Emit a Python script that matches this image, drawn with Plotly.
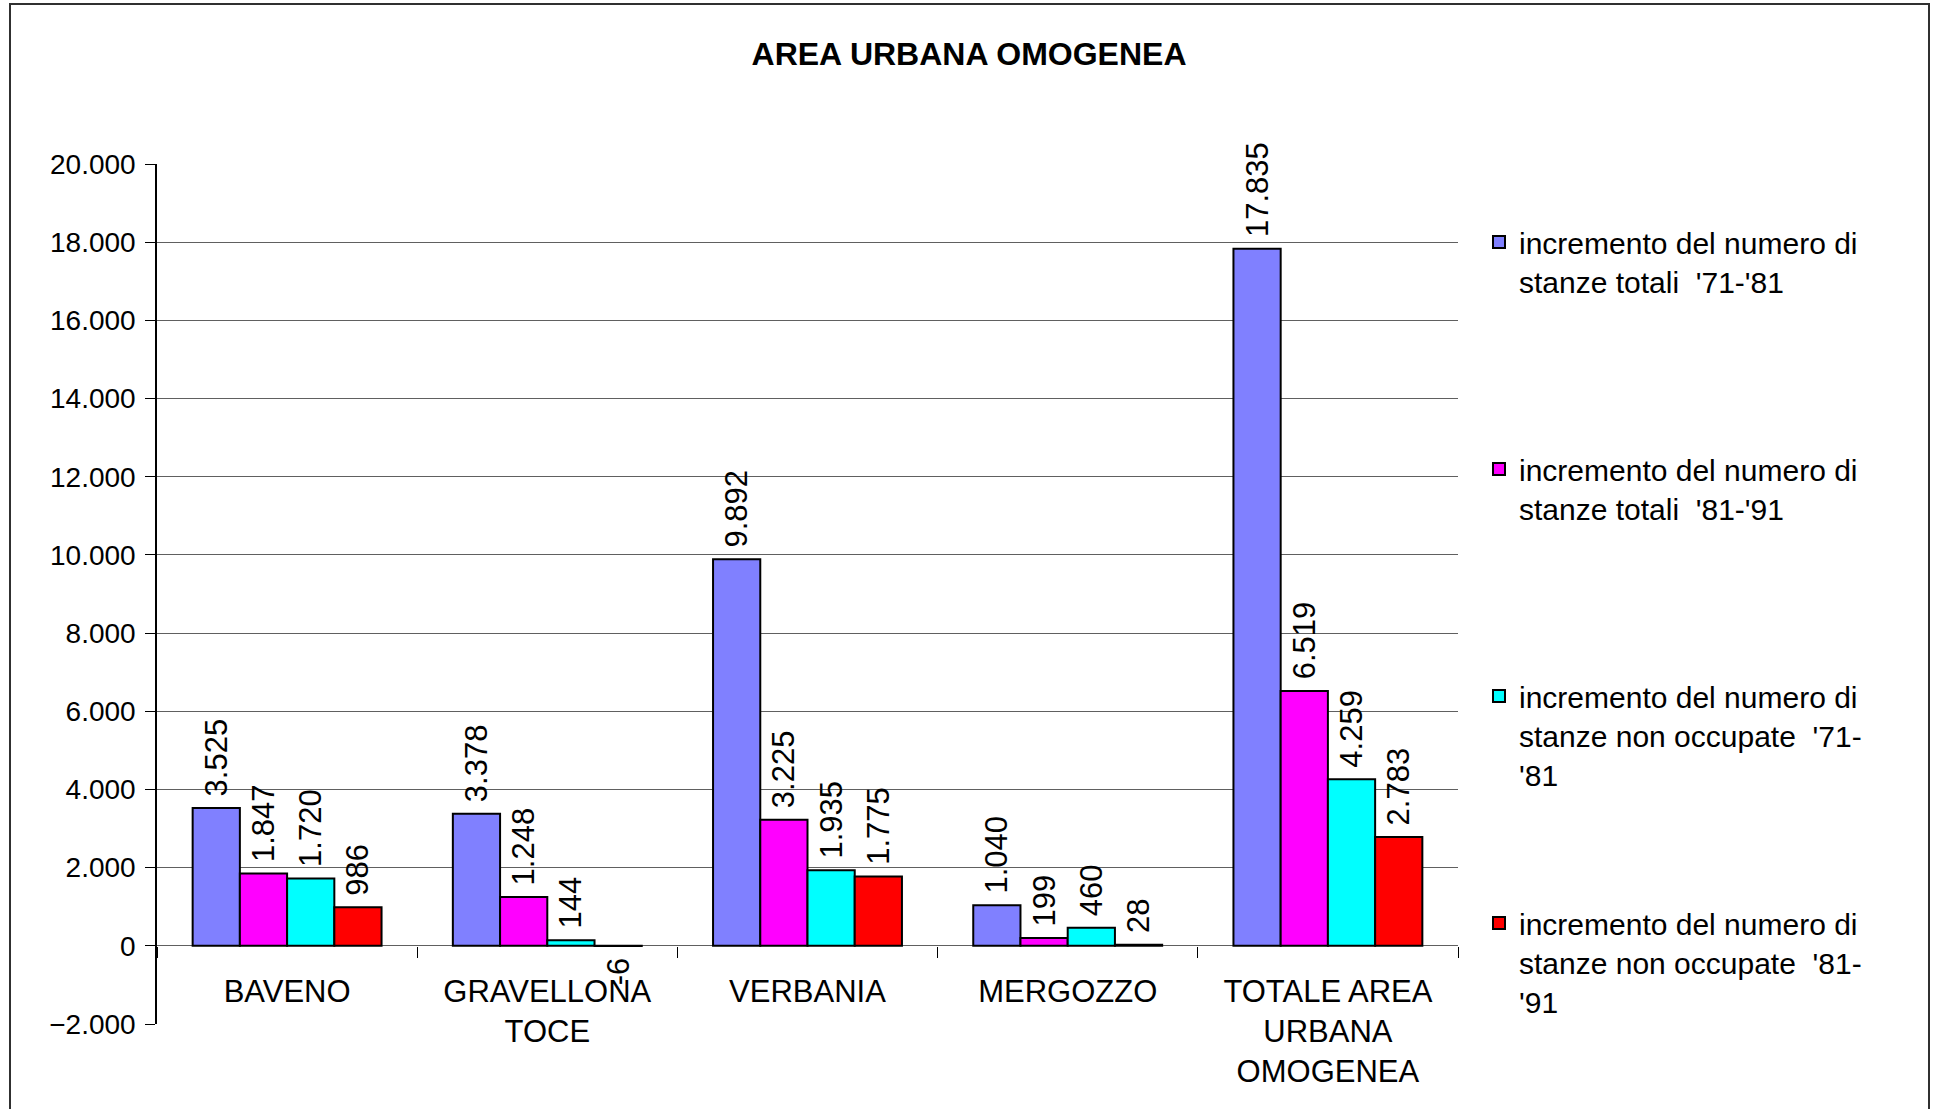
import plotly.graph_objects as go

categories = ["BAVENO", "GRAVELLONA<br>TOCE", "VERBANIA", "MERGOZZO",
              "TOTALE AREA<br>URBANA<br>OMOGENEA"]
series_names = [
    "incremento del numero di<br>stanze totali \u00a0'71-'81",
    "incremento del numero di<br>stanze totali \u00a0'81-'91",
    "incremento del numero di<br>stanze non occupate \u00a0'71-<br>'81",
    "incremento del numero di<br>stanze non occupate \u00a0'81-<br>'91",
]
tot_71_81 = [3525, 3378, 9892, 1040, 17835]
tot_81_91 = [1847, 1248, 3225, 199, 6519]
nonocc_71_81 = [1720, 144, 1935, 460, 4259]
nonocc_81_91 = [986, -6, 1775, 28, 2783]
series_values = [tot_71_81, tot_81_91, nonocc_71_81, nonocc_81_91]
colors = ["#8080FF", "#FF00FF", "#00FFFF", "#FF0000"]
y_ticks = list(range(-2000, 20001, 2000))

FONT = "Arial, 'Liberation Sans', sans-serif"
W, H = 1934, 1109
L, R, T, B = 157, 476, 164, 85

legend_tops = [216, 443, 670, 897]

fig = go.Figure()
for i, (name, vals, col) in enumerate(zip(series_names, series_values, colors)):
    lg = "legend" if i == 0 else f"legend{i+1}"
    templates = ["\u00a0%{y:,.0f}" if v >= 0 else "%{y:,.0f}\u00a0" for v in vals]
    fig.add_trace(go.Bar(
        x=categories, y=vals, name=name, marker_color=col,
        marker_line=dict(color="black", width=2),
        texttemplate=templates, textposition="outside", textangle=-90,
        textfont=dict(family=FONT, size=31, color="black"),
        constraintext="none", cliponaxis=False, legend=lg,
    ))

legend_common = dict(
    xref="container", yref="container", xanchor="left", yanchor="top",
    font=dict(family=FONT, size=30, color="black"), valign="top",
    bgcolor="rgba(0,0,0,0)", borderwidth=0, itemwidth=30,
)
layout_legends = {}
for i, top in enumerate(legend_tops):
    key = "legend" if i == 0 else f"legend{i+1}"
    layout_legends[key] = dict(legend_common, x=1479 / W, y=1 - top / H)

plot_h = H - T - B
zero_pos = (0 - y_ticks[0]) / (y_ticks[-1] - y_ticks[0])

fig.update_layout(
    width=W, height=H, autosize=False,
    margin=dict(l=L, r=R, t=T, b=B, pad=0),
    paper_bgcolor="white", plot_bgcolor="white",
    separators=",.",
    barmode="group", bargap=0.274, bargroupgap=0,
    showlegend=True,
    title=dict(text="<b>AREA URBANA OMOGENEA</b>", x=969 / W, y=1 - 54 / H,
               xanchor="center", yanchor="middle", xref="container", yref="container",
               font=dict(family=FONT, size=32, color="black")),
    font=dict(family=FONT, size=30, color="black"),
    xaxis=dict(
        type="category", anchor="free", position=zero_pos,
        tickson="boundaries", ticks="outside", ticklen=11, tickwidth=1, tickcolor="black",
        showline=False, showgrid=False, zeroline=False,
        tickfont=dict(family=FONT, size=31, color="black"),
        ticklabelstandoff=24,
    ),
    xaxis2=dict(
        overlaying="x", anchor="free", position=zero_pos, range=[-0.5, 4.5],
        tickmode="array", tickvals=[0.5, 1.5, 2.5, 3.5, 4.5],
        ticks="inside", ticklen=11, tickwidth=1, tickcolor="black",
        showticklabels=False, showline=False, showgrid=False, zeroline=False,
    ),
    yaxis=dict(
        range=[y_ticks[0], y_ticks[-1]], tickmode="array", tickvals=y_ticks,
        tickformat=",.0f", ticks="outside", ticklen=10, tickcolor="black",
        showline=True, linecolor="black", linewidth=1.5,
        showgrid=True, gridcolor="#606060", gridwidth=1.2,
        zeroline=True, zerolinecolor="#606060", zerolinewidth=1.2,
        tickfont=dict(family=FONT, size=28, color="black"),
        ticklabelstandoff=4,
    ),
    **layout_legends,
)

# outer chart border
pw = W - L - R
fig.add_shape(type="rect", xref="paper", yref="paper",
              x0=(10 - L) / pw, x1=(1929 - L) / pw,
              y0=(H - B - 1125) / plot_h, y1=(H - B - 4) / plot_h,
              line=dict(color="#303030", width=2), fillcolor="rgba(0,0,0,0)", layer="below")

fig.write_html("out.html", config={"displayModeBar": False},
               post_script="document.body.style.margin='0';")
